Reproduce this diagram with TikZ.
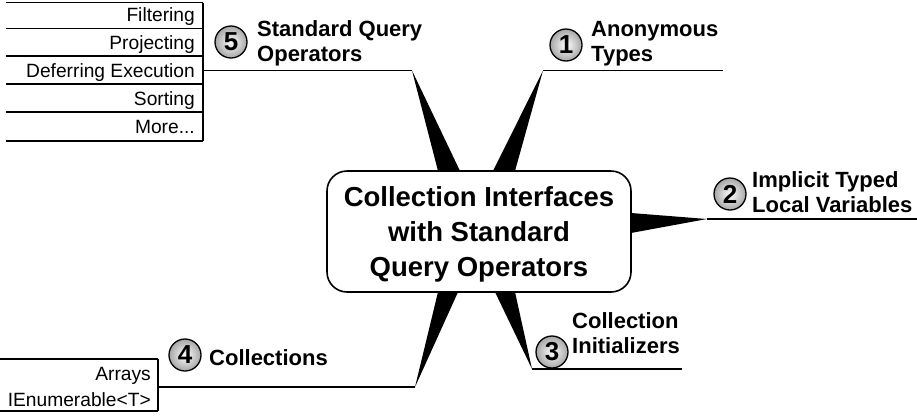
\documentclass[tikz,border=0pt]{standalone}
\usepackage{fontspec}
\setmainfont{Liberation Sans}
\usetikzlibrary{backgrounds}
\begin{document}
\begin{tikzpicture}[x=1pt,y=-1pt,line join=miter]
\tikzset{
  spike/.style={fill=black},
  branchline/.style={line width=1.5pt},
  rowline/.style={line width=1.5pt},
  numcircle/.style={circle,draw,line width=1.3pt,minimum size=32pt,inner sep=0pt,
    inner color=white,outer color=gray!70,font=\bfseries\fontsize{26}{26}\selectfont},
  blabel/.style={anchor=west,align=left,inner sep=0pt,font=\bfseries\fontsize{22}{25}\selectfont},
  itemtext/.style={anchor=base east,inner sep=0pt,font=\fontsize{19.2}{20}\selectfont},
}
\useasboundingbox (0,0) rectangle (917,416);

% central box
\node[draw,fill=white,line width=1.6pt,rounded corners=20pt,minimum width=304pt,minimum height=121pt,
  align=center,inner sep=0pt,font=\bfseries\fontsize{27.5}{35}\selectfont] (hub) at (479,231.5)
  {\rule{0pt}{26pt}Collection Interfaces\\with Standard\\Query Operators};

% apex coordinates and line ends
\coordinate (a1) at (543,70.5);  \coordinate (e1) at (723,70.5);
\coordinate (a2) at (707,219);   \coordinate (e2) at (917,219);
\coordinate (a3) at (532,369);   \coordinate (e3) at (682,369);
\coordinate (a4) at (415,387);   \coordinate (e4) at (158,387);
\coordinate (a5) at (412,70.5);  \coordinate (e5) at (203,70.5);

% spikes behind the box
\begin{scope}[on background layer]
  \fill[spike] (439.3,176) -- (a5) -- (462.4,176) -- cycle;
  \fill[spike] (490.5,176) -- (a1) -- (513.6,176) -- cycle;
  \fill[spike] (626,212.6) -- (a2) -- (626,233.9) -- cycle;
  \fill[spike] (492.6,287) -- (a3) -- (513.9,287) -- cycle;
  \fill[spike] (439.2,287) -- (a4) -- (460.3,287) -- cycle;
\end{scope}

% branch lines
\draw[branchline] (a1) -- (e1);
\draw[branchline] (a2) -- (e2);
\draw[branchline] (a3) -- (e3);
\draw[branchline] (a4) -- (e4);
\draw[branchline] (a5) -- (e5);

% numbered circles and labels
\node[numcircle] (n1) at (566,45) {1};
\node[blabel] (l1) at (591,44) {Anonymous\\Types};
\node[numcircle] (n2) at (730,194) {2};
\node[blabel] (l2) at (752,192) {Implicit Typed\\Local Variables};
\node[numcircle] (n3) at (552,352) {3};
\node[blabel] (l3) at (572,333) {Collection\\Initializers};
\node[numcircle] (n4) at (185,355) {4};
\node[blabel,anchor=base west] (l4) at (209,365) {Collections};
\node[numcircle] (n5) at (231,42) {5};
\node[blabel] (l5) at (257,43) {Standard Query\\Operators};

% table for branch 5
\foreach \yy in {2.5,28.5,56,84,112,141}{
  \draw[rowline] (6,\yy) -- (203,\yy);
}
\draw[rowline] (203,2.5) -- (203,141);
\node[itemtext] (s1) at (195,21.5) {Filtering};
\node[itemtext] (s2) at (195,49) {Projecting};
\node[itemtext] (s3) at (195,77) {Deferring Execution};
\node[itemtext] (s4) at (195,105) {Sorting};
\node[itemtext] (s5) at (195,133) {More...};

% table for branch 4
\draw[rowline] (0,359) -- (158,359);
\draw[rowline] (0,411) -- (158,411);
\draw[rowline] (158,359) -- (158,411);
\node[itemtext] (c1) at (151,380) {Arrays};
\node[itemtext] (c2) at (151,406) {IEnumerable<T>};
\end{tikzpicture}
\end{document}
